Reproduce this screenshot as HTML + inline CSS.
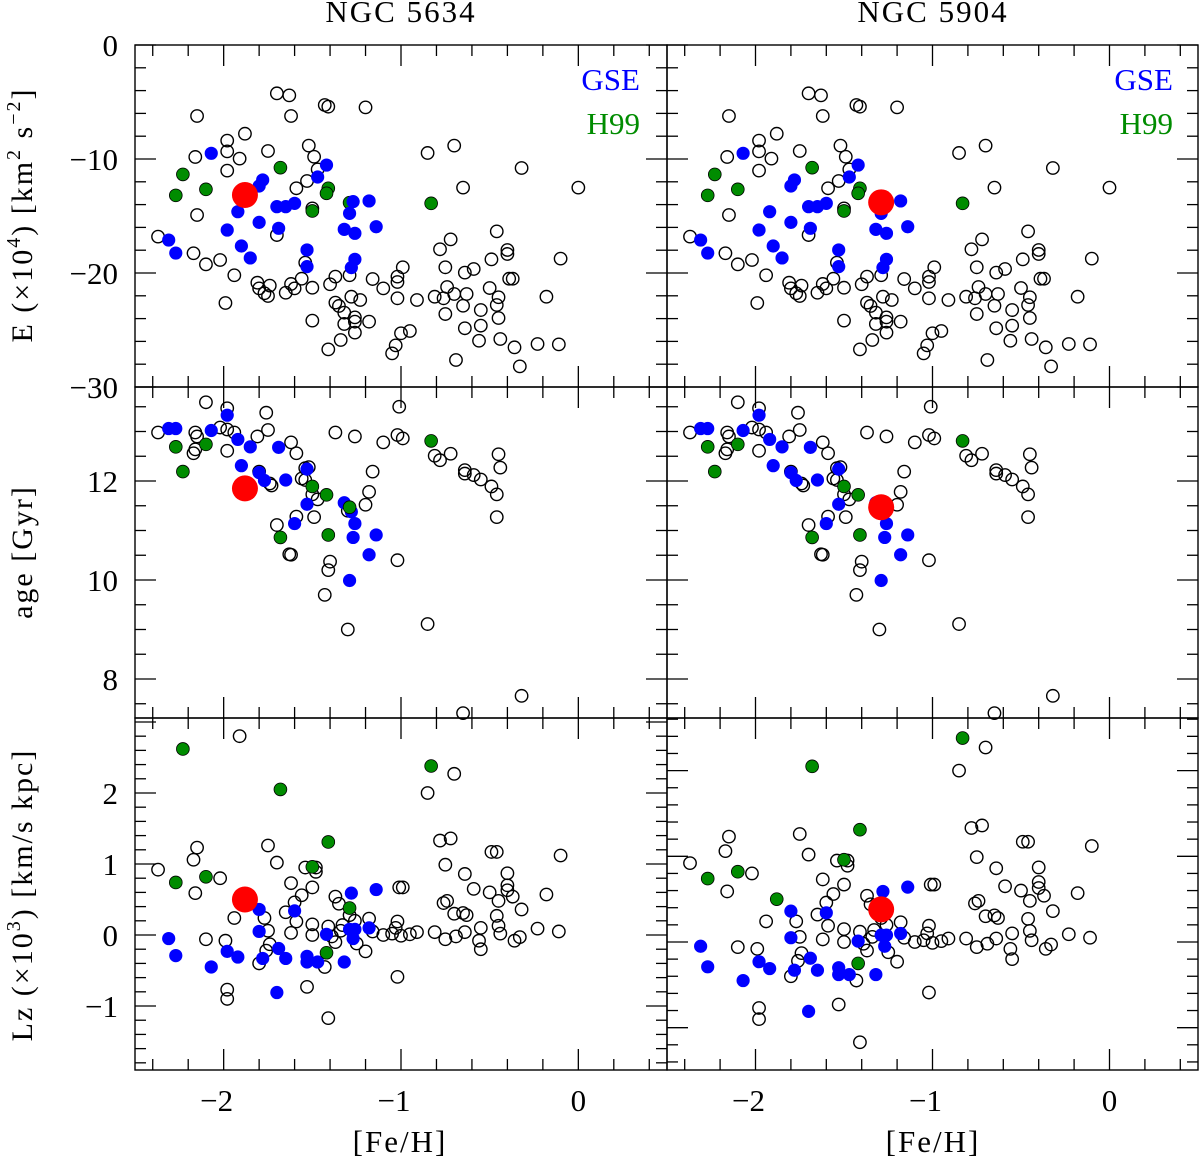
<!DOCTYPE html>
<html><head><meta charset="utf-8">
<style>
html,body{margin:0;padding:0;background:#fff;}
svg{display:block;}
text{font-family:"Liberation Serif","DejaVu Serif",serif;fill:#000;}
</style></head>
<body>
<svg id="chart" width="1200" height="1161" viewBox="0 0 1200 1161" xmlns="http://www.w3.org/2000/svg">
<text x="401" y="22" font-size="31" text-anchor="middle" letter-spacing="2">NGC 5634</text>
<text x="933" y="22" font-size="31" text-anchor="middle" letter-spacing="2">NGC 5904</text>
<text x="400" y="1152" font-size="31" text-anchor="middle" letter-spacing="2">[Fe/H]</text>
<text x="933" y="1152" font-size="31" text-anchor="middle" letter-spacing="2">[Fe/H]</text>
<text transform="translate(32,215) rotate(-90)" font-size="30" text-anchor="middle" letter-spacing="2">E (×10<tspan font-size="20" dy="-12">4</tspan><tspan dy="12">) [km</tspan><tspan font-size="20" dy="-12">2</tspan><tspan dy="12"> s</tspan><tspan font-size="20" dy="-12">−2</tspan><tspan dy="12">]</tspan></text>
<text transform="translate(32,552) rotate(-90)" font-size="30" text-anchor="middle" letter-spacing="2">age [Gyr]</text>
<text transform="translate(32,895) rotate(-90)" font-size="30" text-anchor="middle" letter-spacing="2">Lz (×10<tspan font-size="20" dy="-12">3</tspan><tspan dy="12">) [km/s kpc]</tspan></text>
<text x="640" y="90" font-size="31" text-anchor="end" fill="#0000ff" style="fill:#0000ff">GSE</text>
<text x="640" y="134" font-size="31" text-anchor="end" style="fill:#008c00">H99</text>
<text x="1173" y="90" font-size="31" text-anchor="end" style="fill:#0000ff">GSE</text>
<text x="1173" y="134" font-size="31" text-anchor="end" style="fill:#008c00">H99</text>
</svg>
<script>
// ===== Energy panel data =====
const eOpenFeh=[-1.70,-1.63,-2.15,-1.62,-1.43,-1.41,-1.20,-1.88,-1.98,-1.98,-2.16,-1.91,-1.75,-1.98,-1.52,-1.49,-1.47,-1.53,-1.59,-2.15,-1.50,-1.70,-2.37,-2.17,-2.10,-2.02,-1.94,-1.81,-1.80,-1.77,-1.75,-1.74,-1.65,-1.62,-1.60,-1.56,-1.50,-1.54,-1.40,-1.37,-1.29,-1.16,-1.10,-1.28,-1.23,-1.37,-1.35,-1.32,-1.26,-1.32,-1.26,-1.26,-1.18,-1.50,-1.34,-1.41,-1.99,-1.02,-1.02,-1.02,-0.99,-0.91,-1.00,-0.95,-1.03,-1.05,-0.85,-0.70,-0.65,-0.32,0.00,-0.46,-0.72,-0.78,-0.75,-0.64,-0.59,-0.49,-0.40,-0.40,-0.10,-0.39,-0.37,-0.81,-0.76,-0.74,-0.70,-0.63,-0.65,-0.50,-0.45,-0.46,-0.45,-0.55,-0.55,-0.64,-0.75,-0.56,-0.44,-0.36,-0.23,-0.11,-0.18,-0.69,-0.33];
const eOpenE=[-4.24,-4.42,-6.23,-6.23,-5.26,-5.41,-5.47,-7.78,-8.39,-9.33,-9.82,-9.97,-9.30,-11.02,-8.83,-9.80,-10.91,-11.93,-12.57,-14.91,-14.33,-16.67,-16.81,-18.27,-19.24,-18.86,-20.20,-20.85,-21.35,-21.78,-22.02,-21.11,-21.73,-20.96,-21.35,-20.50,-21.29,-19.09,-20.99,-20.32,-20.20,-20.53,-21.35,-22.08,-22.37,-22.60,-22.89,-23.48,-23.89,-24.47,-24.27,-25.23,-24.27,-24.18,-25.88,-26.70,-22.63,-20.32,-20.79,-22.22,-19.50,-22.37,-25.29,-25.09,-26.35,-27.05,-9.47,-8.83,-12.51,-10.79,-12.51,-16.35,-17.05,-17.92,-19.50,-19.97,-19.65,-18.80,-17.98,-18.33,-18.74,-20.50,-20.50,-22.08,-22.22,-21.23,-21.84,-21.84,-22.87,-21.32,-22.13,-22.81,-23.95,-23.25,-24.62,-24.85,-23.60,-25.94,-25.79,-26.52,-26.23,-26.26,-22.08,-27.63,-28.19];
const eGseFeh=[-2.07,-1.42,-1.47,-1.78,-1.80,-1.70,-1.65,-1.60,-1.27,-1.18,-1.92,-1.29,-1.80,-1.98,-1.69,-1.32,-1.26,-1.14,-2.31,-2.27,-1.90,-1.85,-1.53,-1.53,-1.26,-1.28];
const eGseE=[-9.50,-10.53,-11.58,-11.84,-12.37,-14.18,-14.18,-13.89,-13.74,-13.68,-14.62,-14.77,-15.56,-16.23,-16.08,-16.17,-16.52,-15.94,-17.11,-18.25,-17.63,-18.68,-17.98,-19.44,-18.80,-19.53];
const eH99Feh=[-2.23,-2.27,-2.10,-1.68,-1.41,-1.42,-1.50,-1.29,-0.83];
const eH99E=[-11.35,-13.19,-12.66,-10.76,-12.57,-13.01,-14.56,-13.83,-13.89];
// ===== Age panel data =====
const aOpenFeh=[-2.37,-2.10,-1.98,-2.16,-2.15,-2.17,-2.16,-2.02,-1.98,-1.94,-1.98,-1.81,-1.76,-1.75,-1.80,-1.74,-1.73,-1.62,-1.59,-1.54,-1.52,-1.56,-1.54,-1.50,-1.47,-1.59,-1.49,-1.70,-1.63,-1.62,-1.40,-1.41,-1.43,-1.30,-1.37,-1.26,-1.10,-1.16,-1.18,-1.20,-1.30,-1.02,-1.01,-1.02,-0.99,-0.81,-0.78,-0.72,-0.64,-0.64,-0.59,-0.55,-0.49,-0.46,-0.45,-0.44,-0.46,-0.85,-0.32,-0.65];
const aOpenAge=[12.98,13.59,13.47,12.98,12.90,12.56,12.64,13.08,13.04,12.98,12.61,12.90,13.38,13.03,12.19,11.95,11.91,12.78,12.56,12.26,12.28,12.05,12.02,11.73,11.63,11.28,11.27,11.11,10.52,10.51,10.37,10.20,9.70,9.00,12.98,12.90,12.78,12.19,11.78,11.52,11.40,10.40,13.50,12.93,12.86,12.51,12.42,12.55,12.22,12.15,12.12,12.03,11.89,11.73,12.54,12.27,11.27,9.11,7.66,7.31];
const aGseFeh=[-2.31,-2.27,-2.07,-1.98,-1.92,-1.85,-1.69,-1.90,-1.80,-1.77,-1.65,-1.53,-1.53,-1.60,-1.32,-1.28,-1.26,-1.27,-1.14,-1.18,-1.29];
const aGseAge=[13.06,13.06,13.02,13.33,12.84,12.69,12.68,12.31,12.17,12.01,12.02,12.24,11.53,11.14,11.56,11.38,11.14,10.86,10.91,10.51,9.99];
const aH99Feh=[-2.27,-2.23,-2.10,-1.68,-1.50,-1.42,-1.41,-1.29,-0.83];
const aH99Age=[12.69,12.19,12.74,10.86,11.89,11.72,10.91,11.47,12.81];
// ===== Lz panel data =====
const lOpenFeh=[-1.91,-0.70,-0.85,-2.15,-2.17,-2.37,-2.16,-2.02,-1.75,-1.70,-1.62,-1.56,-1.60,-1.65,-1.59,-1.54,-1.48,-1.48,-1.50,-1.50,-1.50,-1.62,-1.77,-1.94,-2.10,-1.99,-1.75,-1.74,-1.76,-1.80,-1.37,-1.35,-1.29,-1.26,-1.18,-1.33,-1.34,-1.41,-1.39,-1.37,-1.25,-1.20,-1.16,-1.10,-1.05,-1.02,-1.03,-1.00,-0.95,-0.91,-1.01,-0.99,-1.43,-1.53,-1.98,-1.98,-1.41,-1.02,-0.78,-0.72,-0.75,-0.64,-0.59,-0.76,-0.74,-0.70,-0.65,-0.63,-0.50,-0.49,-0.46,-0.40,-0.40,-0.40,-0.37,-0.45,-0.32,-0.46,-0.45,-0.44,-0.55,-0.64,-0.69,-0.75,-0.81,-0.56,-0.55,-0.36,-0.33,-0.23,-0.11,-0.10,-0.18];
const lOpenLz=[2.80,2.27,2.00,1.23,1.06,0.92,0.59,0.80,1.26,1.02,0.73,0.56,0.46,0.32,0.19,0.95,0.95,0.89,0.67,0.15,0.00,0.03,0.24,0.24,-0.06,-0.08,0.06,-0.13,-0.22,-0.40,0.54,0.44,0.28,0.20,0.23,0.14,0.06,0.12,-0.02,-0.10,-0.12,-0.23,0.05,0.00,0.02,0.19,0.10,-0.01,0.01,0.04,0.67,0.67,-0.45,-0.73,-0.77,-0.90,-1.17,-0.59,1.33,1.36,0.99,0.86,0.65,0.45,0.48,0.30,0.31,0.28,0.60,1.17,1.17,0.87,0.70,0.63,0.54,0.48,0.36,0.27,0.13,0.02,0.10,0.04,-0.02,-0.06,0.04,-0.08,-0.20,-0.08,-0.03,0.09,0.05,1.12,0.57];
const lGseFeh=[-2.31,-2.27,-2.07,-1.98,-1.92,-1.80,-1.80,-1.78,-1.69,-1.65,-1.60,-1.53,-1.53,-1.47,-1.42,-1.32,-1.28,-1.29,-1.26,-1.27,-1.18,-1.14,-1.70];
const lGseLz=[-0.05,-0.29,-0.45,-0.23,-0.31,0.36,0.05,-0.33,-0.19,-0.33,0.34,-0.30,-0.38,-0.38,0.01,-0.38,0.59,0.08,0.08,-0.05,0.10,0.64,-0.81];
const lH99Feh=[-2.23,-1.68,-0.83,-1.41,-1.50,-2.27,-2.10,-1.42];
const lH99Lz=[2.62,2.05,2.38,1.31,0.96,0.74,0.82,-0.25];
// ===== Cluster (red) values =====
const clusterNames=["NGC 5634","NGC 5904"];
const clusterFeh=[-1.88,-1.29];
const clusterE=[-13.16,-13.80];
const clusterAge=[11.85,11.47];
const clusterLz=[0.50,0.38];
// tick labels
const eTicks=[0,-10,-20,-30];
const ageTicks=[8,10,12];
const lzTicks=[-1,0,1,2];
const fehTicks=[-2,-1,0];

const NS="http://www.w3.org/2000/svg";
const svg=document.getElementById('chart');
function mk(tag,attrs,parent){const e=document.createElementNS(NS,tag);for(const k in attrs)e.setAttribute(k,attrs[k]);(parent||svg).appendChild(e);return e;}

const cols=[{x0:135,x1:667},{x0:667,x1:1198}];
const fehMin=-2.5,fehMax=0.5;
const rows=[
 {name:'energy',y0:45,y1:387,top:0,bot:-30,major:10,minor:2,labels:eTicks},
 {name:'age',y0:387,y1:718,top:13.899,bot:7.212,major:2,minor:0.5,labels:ageTicks},
 {name:'lz',y0:718,y1:1070,top:3.056,bot:-1.901,major:1,minor:0.2,labels:lzTicks}
];
const lzRight={top:2.614,bot:-1.494};

function xScale(c,v){const C=cols[c];return C.x0+(v-fehMin)/(fehMax-fehMin)*(C.x1-C.x0);}
function yScale(r,c,v){const R=rows[r];let t=R.top,b=R.bot;if(r===2&&c===1){t=lzRight.top;b=lzRight.bot;}return R.y0+(t-v)/(t-b)*(R.y1-R.y0);}

function drawAxes(r,c){
  const R=rows[r],C=cols[c];
  const g=mk('g',{});
  
  
  const frame=mk('rect',{x:C.x0,y:R.y0,width:C.x1-C.x0,height:R.y1-R.y0,fill:'none',stroke:'#000','stroke-width':1.4},g);
  
  
  for(let v=-2.4;v<=0.41;v+=0.2){
    const vv=Math.round(v*10)/10;const isMaj=Math.abs(vv-Math.round(vv))<1e-6;
    const x=xScale(c,vv);const L=isMaj?21:11;
    mk('line',{x1:x,x2:x,y1:R.y1,y2:R.y1-L,stroke:'#000','stroke-width':1.3},g);
    mk('line',{x1:x,x2:x,y1:R.y0,y2:R.y0+L,stroke:'#000','stroke-width':1.3},g);
  }
  let t=R.top,b=R.bot;if(r===2&&c===1){t=lzRight.top;b=lzRight.bot;}
  const lo=Math.min(t,b),hi=Math.max(t,b);
  const start=Math.ceil(lo/R.minor-1e-6)*R.minor;
  for(let v=start;v<=hi+1e-6;v+=R.minor){
    const vv=Math.round(v/R.minor)*R.minor;
    const isMaj=Math.abs(vv/R.major-Math.round(vv/R.major))<1e-6;
    const y=yScale(r,c,vv);const L=isMaj?21:11;
    mk('line',{x1:C.x0,x2:C.x0+L,y1:y,y2:y,stroke:'#000','stroke-width':1.3},g);
    mk('line',{x1:C.x1,x2:C.x1-L,y1:y,y2:y,stroke:'#000','stroke-width':1.3},g);
  }
  if(c===0){
    R.labels.forEach(v=>{
      const y=yScale(r,c,v);
      const tx=mk('text',{x:C.x0-17,y:y+11,'font-size':31,'text-anchor':'end'},g);
      
      
      tx.textContent=(v<0?'\u2212'+(-v):String(v));
    });
  }
  if(r===2){
    fehTicks.forEach(v=>{
      const x=xScale(c,v);
      const tx=mk('text',{x:x-(v<0?7:0),y:1111,'font-size':31,'text-anchor':'middle'},g);
      
      
      tx.textContent=(v<0?'\u2212'+(-v):String(v));
    });
  }
}

function drawSeries(r,c,xs,ys,kind){
  const R=rows[r],C=cols[c];
  const g=mk('g',{});
  
  
  xs.forEach((v,i)=>{
    const x=xScale(c,v),y=yScale(r,c,ys[i]);
    if(y<R.y0+3||y>R.y1-3) return;
    let el;
    if(kind==='open') el=mk('circle',{cx:x,cy:y,r:6.2,fill:'none',stroke:'#000','stroke-width':1.4},g);
    else if(kind==='gse') el=mk('circle',{cx:x,cy:y,r:6.6,fill:'#0000ff'},g);
    else el=mk('circle',{cx:x,cy:y,r:6.4,fill:'#008c00',stroke:'#000','stroke-width':0.8},g);
    
    
  });
}
function drawCluster(r,c,val){
  const x=xScale(c,clusterFeh[c]),y=yScale(r,c,val);
  const el=mk('circle',{cx:x,cy:y,r:13,fill:'#ff0000'});
  
  
}

for(let c=0;c<2;c++){
  for(let r=0;r<3;r++) drawAxes(r,c);
  drawSeries(0,c,eOpenFeh,eOpenE,'open');
  drawSeries(0,c,eH99Feh,eH99E,'h99');
  drawSeries(0,c,eGseFeh,eGseE,'gse');
  drawCluster(0,c,clusterE[c]);
  drawSeries(1,c,aOpenFeh,aOpenAge,'open');
  drawSeries(1,c,aGseFeh,aGseAge,'gse');
  drawSeries(1,c,aH99Feh,aH99Age,'h99');
  drawCluster(1,c,clusterAge[c]);
  drawSeries(2,c,lOpenFeh,lOpenLz,'open');
  drawSeries(2,c,lGseFeh,lGseLz,'gse');
  drawSeries(2,c,lH99Feh,lH99Lz,'h99');
  drawSeries(2,c,[clusterFeh[1-c]],[clusterLz[1-c]],'h99');
  drawCluster(2,c,clusterLz[c]);
}
</script>
</body></html>
